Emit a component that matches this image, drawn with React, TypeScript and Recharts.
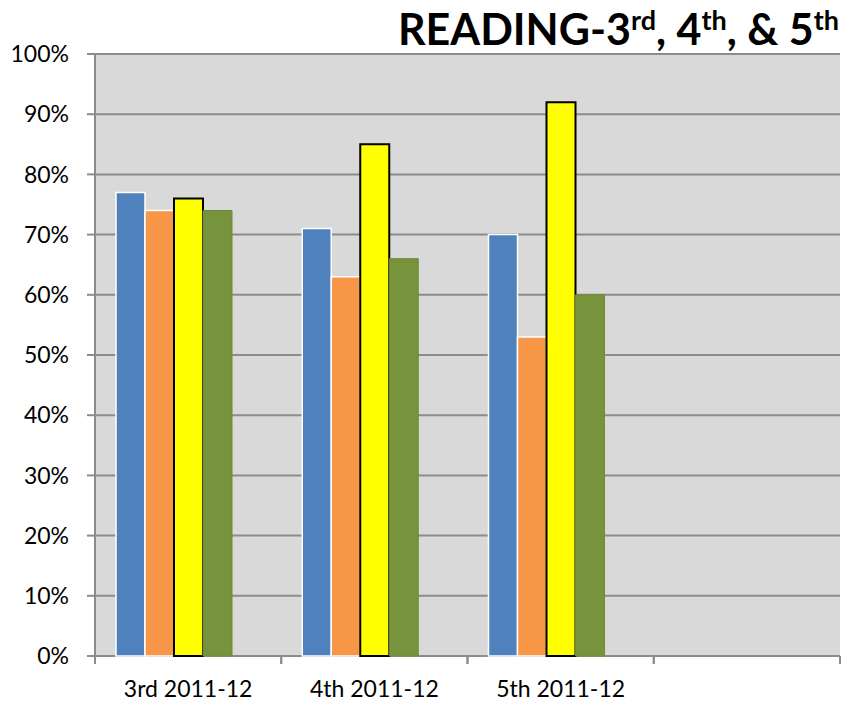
import React from 'react';
import { BarChart, Bar, XAxis, YAxis, CartesianGrid } from 'recharts';

const categories = ['3rd 2011-12', '4th 2011-12', '5th 2011-12', ''];
const blueValues = [0.77, 0.71, 0.70, null];
const orangeValues = [0.74, 0.63, 0.53, null];
const yellowValues = [0.76, 0.85, 0.92, null];
const greenValues = [0.74, 0.66, 0.60, null];
const yTicks = [0, 0.1, 0.2, 0.3, 0.4, 0.5, 0.6, 0.7, 0.8, 0.9, 1];

const data = categories.map((c, i) => ({
  name: c,
  blue: blueValues[i],
  orange: orangeValues[i],
  yellow: yellowValues[i],
  green: greenValues[i],
  empty: null,
}));

const FONT = 'Lato, "Open Sans", sans-serif';

const supStyle: React.CSSProperties = { fontSize: 27, verticalAlign: 0, position: 'relative', top: -15 };

const CategoryTick = (props: any) => {
  const { x, y, payload } = props;
  const half = payload && payload.offset ? payload.offset : 0;
  return (
    <g>
      <line x1={x - half} x2={x - half} y1={y} y2={y + 8} stroke="#8c8c8c" strokeWidth={2} />
      <line x1={x + half} x2={x + half} y1={y} y2={y + 8} stroke="#8c8c8c" strokeWidth={2} />
      <text x={x} y={y + 25} dy="0.71em" textAnchor="middle" fontFamily={FONT} fontSize={23} fill="#000">
        {payload.value}
      </text>
    </g>
  );
};

export default function App() {
  return (
    <div style={{ position: 'absolute', left: 0, top: 0, width: 843, height: 703, background: '#fff' }}>
      <div
        style={{
          position: 'absolute',
          right: 4,
          top: 3,
          fontFamily: FONT,
          fontWeight: 700,
          fontSize: 43,
          lineHeight: '52px',
          color: '#000',
          whiteSpace: 'nowrap',
        }}
      >
        READING-3<sup style={supStyle}>rd</sup>, 4<sup style={supStyle}>th</sup>, &amp; 5<sup style={supStyle}>th</sup>
      </div>
      <BarChart
        width={843}
        height={703}
        data={data}
        margin={{ top: 54, right: 3, bottom: 0, left: 0 }}
        barGap={0}
        barSize={29}
      >
        <CartesianGrid horizontal vertical={false} fill="#d9d9d9" stroke="#8c8c8c" strokeWidth={2} />
        <XAxis
          dataKey="name"
          height={47}
          axisLine={false}
          tickLine={false}
          tickSize={0}
          tickMargin={0}
          interval={0}
          tick={<CategoryTick />}
        />
        <YAxis
          width={95}
          domain={[0, 1]}
          ticks={yTicks}
          interval={0}
          tickSize={8}
          tickMargin={18}
          tickFormatter={(v: number) => `${Math.round(v * 100)}%`}
          stroke="#8c8c8c"
          strokeWidth={2}
          tick={{ fontFamily: FONT, fontSize: 23, fill: '#000' }}
        />
        <Bar dataKey="blue" fill="#4f81bd" stroke="#ffffff" strokeWidth={1.5} isAnimationActive={false} />
        <Bar dataKey="orange" fill="#f79646" stroke="#ffffff" strokeWidth={1.5} isAnimationActive={false} />
        <Bar dataKey="yellow" fill="#ffff00" stroke="#000000" strokeWidth={2} isAnimationActive={false} />
        <Bar dataKey="green" fill="#77933c" stroke="#6e8a36" strokeWidth={1} isAnimationActive={false} />
        <Bar dataKey="empty" fill="#000" isAnimationActive={false} />
      </BarChart>
    </div>
  );
}
